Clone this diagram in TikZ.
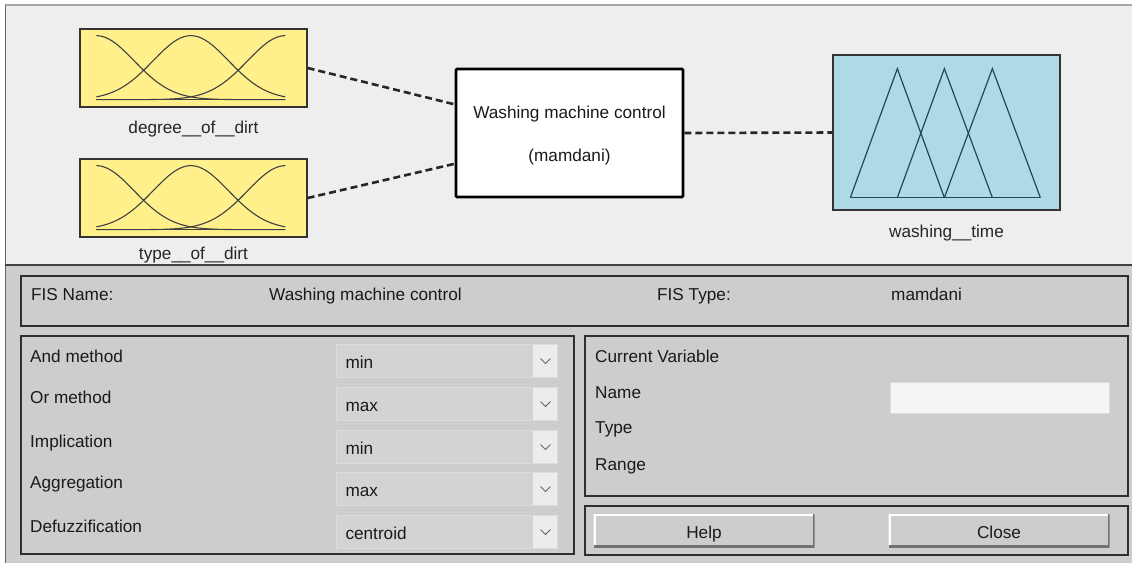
\documentclass[tikz,border=0pt]{standalone}
\usepackage{fontspec}
\setmainfont{Liberation Sans}
\usepackage{tikz}
\usetikzlibrary{calc, positioning}
\definecolor{topgray}{HTML}{EEEEEE}
\definecolor{botgray}{HTML}{CDCDCD}
\definecolor{inyellow}{HTML}{FFF08C}
\definecolor{outblue}{HTML}{ADDAE6}
\definecolor{dropfill}{HTML}{D3D3D3}
\definecolor{dropedge}{HTML}{DCDCDC}
\definecolor{chevfill}{HTML}{ECECEC}
\definecolor{panelline}{HTML}{2E2E2E}
\definecolor{guitext}{HTML}{1A1A1A}
\definecolor{triline}{HTML}{1E4A50}
\tikzset{
    guifont/.style = {font=\fontsize{17.2}{20}\selectfont},
    mfbox/.style = {draw=black!80, line width=1.3pt, rectangle, inner sep=0pt, minimum width=227pt},
    inbox/.style = {mfbox, fill=inyellow, minimum height=78pt},
    outbox/.style = {mfbox, fill=outblue, minimum height=155pt},
    fisbox/.style = {draw=black, line width=2.6pt, fill=white, rectangle, rounded corners=1pt,
      minimum width=227pt, minimum height=128pt, align=center, guifont, text=guitext},
    varlabel/.style = {inner sep=0pt, guifont, text=black!85},
    connect/.style = {black!85, line width=2.6pt, dash pattern=on 7pt off 4pt},
    mfcurve/.style = {black!75, line width=1.1pt},
    trimf/.style = {triline, line width=1.2pt},
    panel/.style = {draw=panelline, line width=2pt, rectangle, inner sep=0pt, anchor=north west},
    textnode/.style = {anchor=base west, inner sep=0pt, guifont, text=guitext},
    dropbox/.style = {draw=dropedge, line width=1pt, fill=dropfill, rectangle, anchor=north west,
      minimum width=221pt, minimum height=33pt, inner xsep=9pt, inner ysep=0pt, text width=203pt,
      align=left, text height=15pt, text depth=0pt, guifont, text=guitext,
      path picture={
        \fill[chevfill] ([xshift=-25pt]path picture bounding box.north east) rectangle (path picture bounding box.south east);
        \draw[black!60, line width=1pt] ([xshift=-17pt,yshift=2.5pt]path picture bounding box.east)
          -- ([xshift=-12pt,yshift=-2.5pt]path picture bounding box.east)
          -- ([xshift=-7pt,yshift=2.5pt]path picture bounding box.east);
      }},
    guibutton/.style = {rectangle, fill=botgray, minimum width=221pt, minimum height=33pt, inner sep=0pt,
      text height=15pt, text depth=0pt, guifont, text=guitext,
      path picture={
        \draw[white, line width=4pt] (path picture bounding box.south west) -- (path picture bounding box.north west)
          -- (path picture bounding box.north east);
        \draw[black!55, line width=4pt] (path picture bounding box.north east) -- (path picture bounding box.south east)
          -- (path picture bounding box.south west);
      }},
    namefield/.style = {draw=dropedge, line width=1pt, fill=white!96!black, rectangle, anchor=north west,
      minimum width=219pt, minimum height=31pt, inner sep=0pt},
    gaussset/.pic = {
      \draw[mfcurve] (17,-8) -- (206,-8);
      \draw[mfcurve] plot[domain=0:2, samples=60, smooth] ({17+94.5*\x}, {-8-64*exp(-(\x*\x)/0.32)});
      \draw[mfcurve] plot[domain=0:2, samples=60, smooth] ({17+94.5*\x}, {-8-64*exp(-((\x-1)*(\x-1))/0.32)});
      \draw[mfcurve] plot[domain=0:2, samples=60, smooth] ({17+94.5*\x}, {-8-64*exp(-((\x-2)*(\x-2))/0.32)});
    },
    trimfset/.pic = {
      \draw[trimf] (18,-13) -- (208,-13);
      \draw[trimf] (18,-13) -- (65,-142) -- (112,-13);
      \draw[trimf] (65,-13) -- (112,-142) -- (160,-13);
      \draw[trimf] (112,-13) -- (160,-142) -- (208,-13);
    }
}

\begin{document}
\begin{tikzpicture}[x=1pt, y=-1pt]
\useasboundingbox (0,0) rectangle (1132,563);
% window background
\fill[white] (0,0) rectangle (1132,563);
\fill[topgray] (5,5) rectangle (1132,265);
\fill[botgray] (5,265) rectangle (1132,563);
\draw[black!35, line width=1.5pt] (5,5) -- (1132,5);
\draw[black!60, line width=1pt] (5,5) -- (5,563);
\draw[black!75, line width=2pt] (5,265) -- (1132,265);

% FIS diagram
\node[inbox, name=dirtdeg] at (193.5,68) {};
\node[inbox, name=dirttype] at (193.5,198) {};
\node[fisbox, name=fiscore] at (569.5,133) {\rule{0pt}{18.5pt}Washing machine control\\[23pt](mamdani)};
\node[outbox, name=washtime] at (946.5,132.5) {};
\pic at (dirtdeg.south west) {gaussset};
\pic at (dirttype.south west) {gaussset};
\pic at (washtime.south west) {trimfset};
\node[varlabel, below=26pt of dirtdeg, anchor=base, name=dirtdeglabel] {degree\_\_of\_\_dirt};
\node[varlabel, below=22pt of dirttype, anchor=base, name=dirttypelabel] {type\_\_of\_\_dirt};
\node[varlabel, below=27pt of washtime, anchor=base, name=washtimelabel] {washing\_\_time};
\draw[connect] (dirtdeg.east) -- (fiscore.166);
\draw[connect] (dirttype.east) -- (fiscore.195);
\draw[connect] (fiscore.east) -- (washtime.west);

% FIS name / type
\node[panel, minimum width=1107pt, minimum height=50pt, name=fisbar] at (20,275) {};
\node[textnode, name=fisname] at (31,300) {FIS Name:};
\node[textnode, name=fisnameval] at (269,300) {Washing machine control};
\node[textnode, name=fistype] at (657,300) {FIS Type:};
\node[textnode, name=fistypeval] at (891,300) {mamdani};

% methods
\node[panel, minimum width=553pt, minimum height=218pt, name=methodpanel] at (20,335) {};
\node[textnode, name=andlabel] at (30,362) {And method};
\node[textnode, name=orlabel] at (30,403) {Or method};
\node[textnode, name=implabel] at (30,447) {Implication};
\node[textnode, name=agglabel] at (30,488) {Aggregation};
\node[textnode, name=defuzzlabel] at (30,532) {Defuzzification};
\node[dropbox, name=anddrop] at (336,344) {min};
\node[dropbox, name=ordrop] at (336,387) {max};
\node[dropbox, name=impdrop] at (336,430) {min};
\node[dropbox, name=aggdrop] at (336,472) {max};
\node[dropbox, name=defuzzdrop] at (336,515) {centroid};

% current variable
\node[panel, minimum width=543pt, minimum height=160pt, name=varpanel] at (584,335) {};
\node[textnode, name=curvar] at (595,362) {Current Variable};
\node[textnode, name=varname] at (595,398) {Name};
\node[textnode, name=vartype] at (595,433) {Type};
\node[textnode, name=varrange] at (595,470) {Range};
\node[namefield, name=namebox] at (890,382) {};

% buttons
\node[panel, minimum width=543pt, minimum height=49pt, name=buttonpanel] at (584,505) {};
\node[guibutton, name=helpbtn] at (704,530.5) {Help};
\node[guibutton, name=closebtn] at (999,530.5) {Close};
\end{tikzpicture}
\end{document}
